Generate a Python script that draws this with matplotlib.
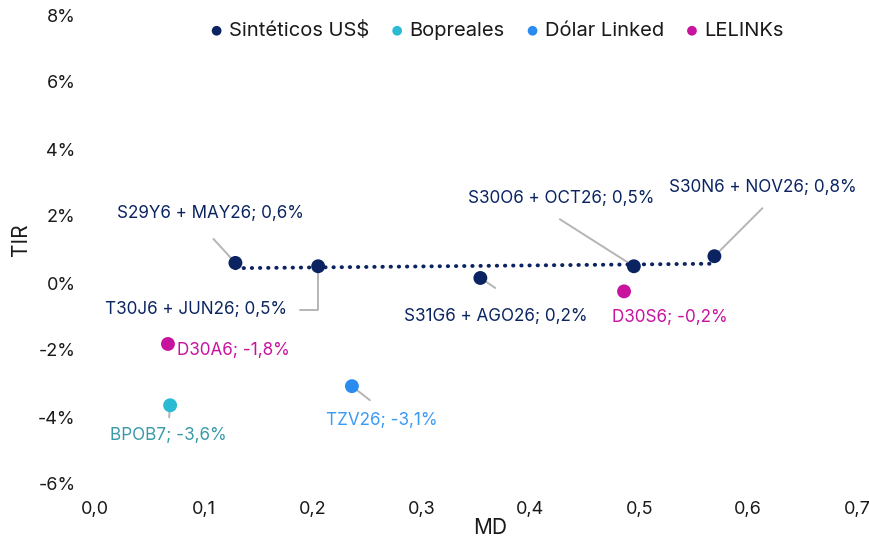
import numpy as np
import matplotlib
matplotlib.use("Agg")
import matplotlib.pyplot as plt
from matplotlib.ticker import FuncFormatter

plt.rcParams['font.family'] = ['Inter', 'DejaVu Sans']

# ---- data ----
sint_names = ["S29Y6 + MAY26", "T30J6 + JUN26", "S31G6 + AGO26", "S30O6 + OCT26", "S30N6 + NOV26"]
sint_md = [0.129, 0.205, 0.354, 0.495, 0.569]
sint_tir = [0.6, 0.5, 0.15, 0.5, 0.8]
sint_lbl = ["0,6%", "0,5%", "0,2%", "0,5%", "0,8%"]

bop_names = ["BPOB7"]
bop_md = [0.069]
bop_tir = [-3.65]
bop_lbl = ["-3,6%"]

dl_names = ["TZV26"]
dl_md = [0.236]
dl_tir = [-3.08]
dl_lbl = ["-3,1%"]

lel_names = ["D30A6", "D30S6"]
lel_md = [0.067, 0.486]
lel_tir = [-1.82, -0.25]
lel_lbl = ["-1,8%", "-0,2%"]

x_ticks = [0.0, 0.1, 0.2, 0.3, 0.4, 0.5, 0.6, 0.7]
y_ticks = [-6, -4, -2, 0, 2, 4, 6, 8]

# ---- style ----
C_SINT = "#0b2461"
C_BOP = "#2bbad3"
C_DL = "#2b8cf0"
C_LEL = "#c8139f"
C_BOP_TXT = "#3a9aa8"
C_DL_TXT = "#3b9af2"
GRAY = "#b5b5b5"

fig = plt.figure(figsize=(8.7, 5.39), dpi=100)
ax = fig.add_axes([95/870, 1-484/539, (857-95)/870, (484-15)/539])

ms = 100
ax.scatter(sint_md, sint_tir, s=ms, color=C_SINT, zorder=4, label="Sintéticos US$", edgecolors="none")
ax.scatter(bop_md, bop_tir, s=ms, color=C_BOP, zorder=4, label="Bopreales", edgecolors="none")
ax.scatter(dl_md, dl_tir, s=ms, color=C_DL, zorder=4, label="Dólar Linked", edgecolors="none")
ax.scatter(lel_md, lel_tir, s=ms, color=C_LEL, zorder=4, label="LELINKs", edgecolors="none")

# trend line for Sintéticos
coef = np.polyfit(sint_md, sint_tir, 1)
xs = np.array([min(sint_md), max(sint_md)])
ax.plot(xs, np.polyval(coef, xs), color=C_SINT, lw=2.8, linestyle=(0, (0.1, 2.0)),
        dash_capstyle="round", zorder=3)

ax.set_xlim(0, 0.7)
ax.set_ylim(-6, 8)
ax.set_xticks(x_ticks)
ax.set_yticks(y_ticks)
ax.xaxis.set_major_formatter(FuncFormatter(lambda v, p: f"{v:.1f}".replace(".", ",")))
ax.yaxis.set_major_formatter(FuncFormatter(lambda v, p: f"{v:.0f}%"))
for s in ax.spines.values():
    s.set_visible(False)
ax.tick_params(length=0, labelsize=13, colors="#1a1a1a")
ax.tick_params(axis='y', pad=14)
ax.tick_params(axis='x', pad=12)
ax.set_xlabel("MD", fontsize=15, color="#1a1a1a")
ax.set_ylabel("TIR", fontsize=15, color="#1a1a1a")
ax.xaxis.set_label_coords((490 - 95) / 762, -(518 - 484) / 469)
ax.yaxis.set_label_coords((31 - 95) / 762, (484 - 240) / 469)

def leader(x, y, off, conn=None):
    ap = dict(arrowstyle="-", color=GRAY, lw=1.4, shrinkA=0, shrinkB=0)
    if conn:
        ap["connectionstyle"] = conn
    ax.annotate("", xy=(x, y), xytext=off, textcoords="offset pixels",
                arrowprops=ap, zorder=2)

def label(x, y, txt, off, color, ha="center"):
    ax.annotate(txt, xy=(x, y), xytext=off, textcoords="offset pixels",
                ha=ha, va="center", fontsize=12.3, color=color, zorder=5)

# Sintéticos labels
s_text_off = [(-25, 49), (-122, -43), (15, -39), (-73, 68), (48, 69)]
s_lead_off = [(-22, 24), (-18, -44), (15, -10), (-74, 47), (48, 48)]
for i, (n, x, y, l) in enumerate(zip(sint_names, sint_md, sint_tir, sint_lbl)):
    conn = "angle,angleA=0,angleB=90,rad=0" if i == 1 else None
    leader(x, y, s_lead_off[i], conn)
    label(x, y, f"{n}; {l}", s_text_off[i], C_SINT)

# Bopreales
leader(bop_md[0], bop_tir[0], (-1, -12))
label(bop_md[0], bop_tir[0], f"{bop_names[0]}; {bop_lbl[0]}", (-2, -30), C_BOP_TXT)

# Dólar Linked
leader(dl_md[0], dl_tir[0], (18, -14))
label(dl_md[0], dl_tir[0], f"{dl_names[0]}; {dl_lbl[0]}", (30, -34), C_DL_TXT)

# LELINKs
label(lel_md[0], lel_tir[0], f"{lel_names[0]}; {lel_lbl[0]}", (9, -7), C_LEL, ha="left")
label(lel_md[1], lel_tir[1], f"{lel_names[1]}; {lel_lbl[1]}", (46, -26), C_LEL)

leg = ax.legend(loc="upper center", bbox_to_anchor=(497/870, 1 - 13/539), bbox_transform=fig.transFigure,
                ncol=4, frameon=False, fontsize=14.5, handlelength=0.6, handletextpad=0.3,
                columnspacing=1.1, markerscale=0.7, borderaxespad=0)
for t in leg.get_texts():
    t.set_color("#1a1a1a")

fig.savefig("out.png", dpi=100)
